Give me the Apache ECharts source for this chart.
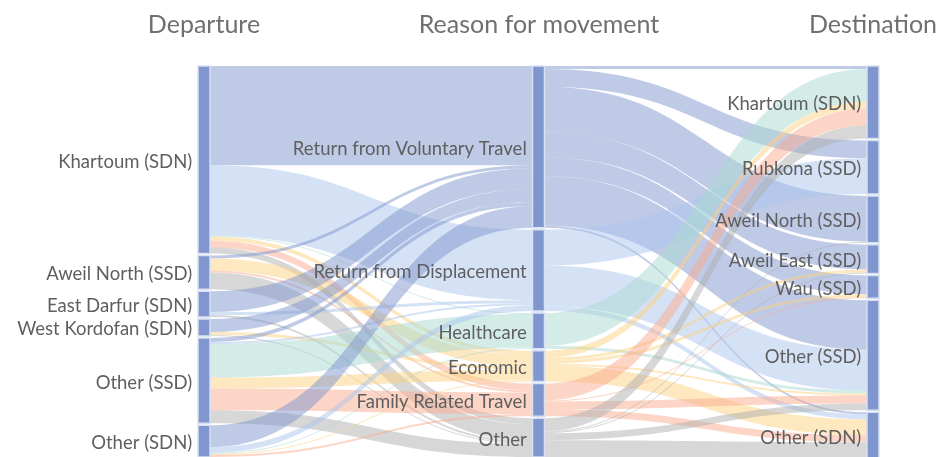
<!DOCTYPE html>
<html>
<head>
<meta charset="utf-8">
<script src="https://cdn.jsdelivr.net/npm/echarts@6/dist/echarts.min.js"></script>
<style>
html, body { margin: 0; padding: 0; background: #fff; }
#main { width: 936px; height: 457px; }
</style>
</head>
<body>
<div id="main"></div>
<script>
// columns of the sankey
var departures = ['Khartoum (SDN)', 'Aweil North (SSD)', 'East Darfur (SDN)', 'West Kordofan (SDN)', 'Other (SSD)', 'Other (SDN)'];
var reasons = ['Return from Voluntary Travel', 'Return from Displacement', 'Healthcare', 'Economic', 'Family Related Travel', 'Other'];
var destinations = ['Khartoum (SDN)', 'Rubkona (SSD)', 'Aweil North (SSD)', 'Aweil East (SSD)', 'Wau (SSD)', 'Other (SSD)', 'Other (SDN)'];
var columnTitles = ['Departure', 'Reason for movement', 'Destination'];

// departure -> reason (one row per departure, columns follow reasons)
var depToReason = [
    [100, 71, 1, 4, 7, 6],
    [3, 0, 0, 12, 2, 17],
    [21, 3, 0, 0, 0, 2],
    [13, 0, 0, 3, 0, 1],
    [4, 2, 34, 11, 22, 13],
    [22, 6, 1, 1, 2, 0]
];

// reason -> destination (one row per reason, columns follow destinations)
var reasonToDest = [
    [3, 18, 46, 25, 19, 50, 2],
    [0, 36, 0, 0, 0, 41, 5],
    [33, 0, 0, 0, 0, 3, 0],
    [7, 0, 0, 3, 3, 2, 16],
    [17, 0, 0, 0, 1, 8, 7],
    [13, 0, 1, 1, 0, 7, 17]
];

// link colour by reason
var reasonColors = ['#7f95cf', '#abc5ed', '#a9d9d1', '#fbd181', '#fbab8d', '#afafaf'];

var nodes = [];
var links = [];

departures.forEach(function (n) { nodes.push({ name: 'dep|' + n }); });
reasons.forEach(function (n) { nodes.push({ name: 'rea|' + n }); });
destinations.forEach(function (n) { nodes.push({ name: 'dst|' + n }); });

depToReason.forEach(function (row, i) {
    row.forEach(function (v, j) {
        if (!v) return;
        links.push({
            source: 'dep|' + departures[i],
            target: 'rea|' + reasons[j],
            value: v,
            lineStyle: { color: reasonColors[j] }
        });
    });
});

reasonToDest.forEach(function (row, i) {
    row.forEach(function (v, j) {
        if (!v) return;
        links.push({
            source: 'rea|' + reasons[i],
            target: 'dst|' + destinations[j],
            value: v,
            lineStyle: { color: reasonColors[i] }
        });
    });
});

var chart = echarts.init(document.getElementById('main'));

var titleX = [204, 539, 873];

chart.setOption({
    animation: false,
    graphic: columnTitles.map(function (t, i) {
        return {
            type: 'text',
            x: titleX[i],
            y: 25,
            style: {
                text: t,
                fill: '#707070',
                font: '25px Lato',
                textAlign: 'center',
                textVerticalAlign: 'middle'
            }
        };
    }),
    series: [{
        type: 'sankey',
        left: 198,
        right: 57,
        top: 66,
        bottom: -2,
        nodeWidth: 12,
        nodeGap: 2,
        layoutIterations: 0,
        draggable: false,
        emphasis: { disabled: true },
        data: nodes,
        links: links,
        itemStyle: {
            color: '#7f96cf',
            borderColor: '#d9e0f1',
            borderWidth: 1.5
        },
        lineStyle: {
            curveness: 0.5,
            opacity: 0.5
        },
        label: {
            position: 'left',
            distance: 5,
            offset: [0, 2],
            color: '#5f5f5f',
            fontFamily: 'Lato',
            fontSize: 18.5,
            formatter: function (p) {
                return p.name.split('|')[1];
            }
        }
    }]
});
</script>
</body>
</html>
